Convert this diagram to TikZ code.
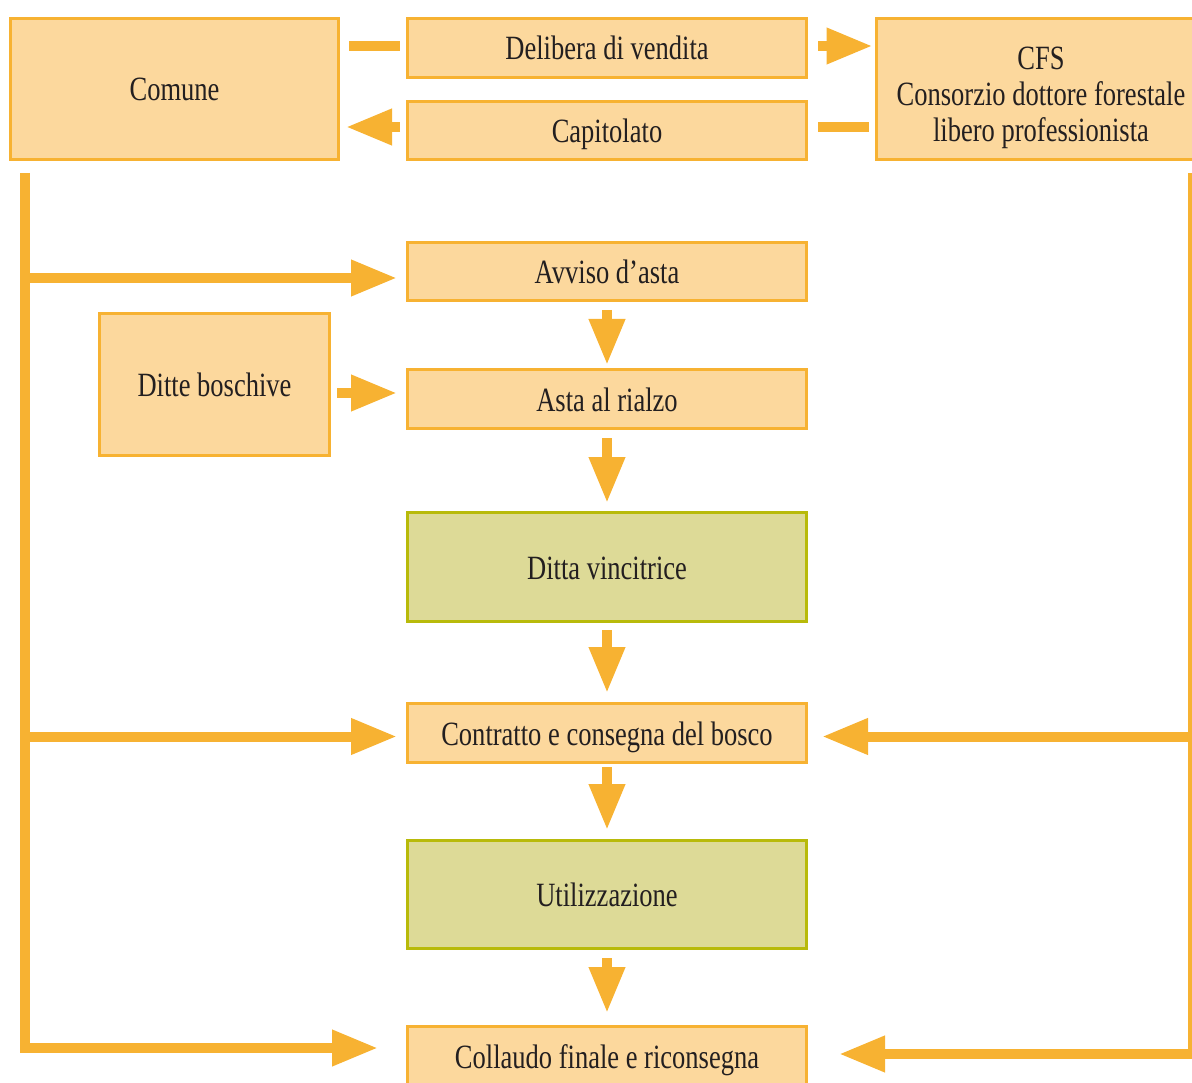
\documentclass[tikz,border=0pt]{standalone}
\usepackage{fontspec}
\setmainfont{Liberation Serif}[FakeStretch=0.78]
\usetikzlibrary{arrows.meta,calc}
\definecolor{ofill}{HTML}{FCD89D}
\definecolor{oline}{HTML}{F7B232}
\definecolor{gfill}{HTML}{DDDA97}
\definecolor{gline}{HTML}{B8BA0A}
\definecolor{ink}{HTML}{231F20}
\begin{document}
\begin{tikzpicture}[x=1pt,y={(0pt,-1pt)},
  every node/.style={font=\fontsize{34}{36}\selectfont, text=ink},
  obox/.style={draw=oline, fill=ofill, line width=3pt, inner sep=0pt, align=center,
    text height=24pt, text depth=0pt},
  gbox/.style={obox, draw=gline, fill=gfill},
  bar/.style={draw=oline, line width=10pt},
  conn/.style={bar, -{Triangle[length=46pt,width=34pt]}},
]
\useasboundingbox (0,0) rectangle (1192,1083);

% boxes
\node[obox, minimum width=328pt, minimum height=141pt] (comune) at (174.5,89) {Comune};
\node[obox, minimum width=399pt, minimum height=59pt] (delib) at (607,48) {Delibera di vendita};
\node[obox, minimum width=399pt, minimum height=58pt] (capit) at (607,130.5) {Capitolato};
\node[obox, minimum width=330pt, minimum height=141pt, text height=108pt, text depth=2pt] (cfs) at (1041,89)
  {CFS\\Consorzio dottore forestale\\libero professionista};
\node[obox, minimum width=399pt, minimum height=58pt] (avviso) at (607,271.5) {Avviso d’asta};
\node[obox, minimum width=230pt, minimum height=142pt] (ditte) at (214.5,384.5) {Ditte boschive};
\node[obox, minimum width=399pt, minimum height=59pt] (asta) at (607,399) {Asta al rialzo};
\node[gbox, minimum width=399pt, minimum height=109pt] (vinc) at (607,567) {Ditta vincitrice};
\node[obox, minimum width=399pt, minimum height=59pt] (contr) at (607,733) {Contratto e consegna del bosco};
\node[gbox, minimum width=399pt, minimum height=108pt] (util) at (607,894.5) {Utilizzazione};
\node[obox, minimum width=399pt, minimum height=59pt] (coll) at (607,1056) {Collaudo finale e riconsegna};

% top exchange between Comune and CFS
\draw[bar] ($(comune.east |- delib.west)+(9,-2)$) -- ($(delib.west)+(-6,-2)$);
\draw[conn] ($(delib.east)+(10,-2)$) -- ($(cfs.west |- delib.east)+(-2,-2)$);
\draw[bar] ($(cfs.west |- capit.east)+(-6,-3.5)$) -- ($(capit.east)+(10,-3.5)$);
\draw[conn] ($(capit.west)+(-6,-3.5)$) -- ($(comune.east |- capit.west)+(6,-3.5)$);

% main chain
\draw[conn] ($(avviso.south)+(0,8)$) -- ($(asta.north)+(0,-3)$);
\draw[conn] ($(asta.south)+(0,8)$) -- ($(vinc.north)+(0,-8)$);
\draw[conn] ($(vinc.south)+(0,7)$) -- ($(contr.north)+(0,-9)$);
\draw[conn] ($(contr.south)+(0,3)$) -- ($(util.north)+(0,-9)$);
\draw[conn] ($(util.south)+(0,8)$) -- ($(coll.north)+(0,-12)$);
\draw[conn] ($(ditte.east)+(6,8.5)$) -- ($(asta.west)+(-9,-6)$);

% Comune feed line on the left
\coordinate (lt) at (25,173);
\draw[conn] (lt) |- ($(coll.west)+(-28,-8)$);
\draw[conn] ($(lt |- avviso.west)+(0,6.5)$) -- ($(avviso.west)+(-9,6.5)$);
\draw[conn] ($(lt |- contr.west)+(0,3.5)$) -- ($(contr.west)+(-9,3.5)$);

% CFS feed line on the right
\coordinate (rt) at (1193,173);
\draw[conn] (rt) |- ($(coll.east)+(31,-2)$);
\draw[conn] ($(rt |- contr.east)+(0,3.5)$) -- ($(contr.east)+(14,3.5)$);
\end{tikzpicture}
\end{document}
